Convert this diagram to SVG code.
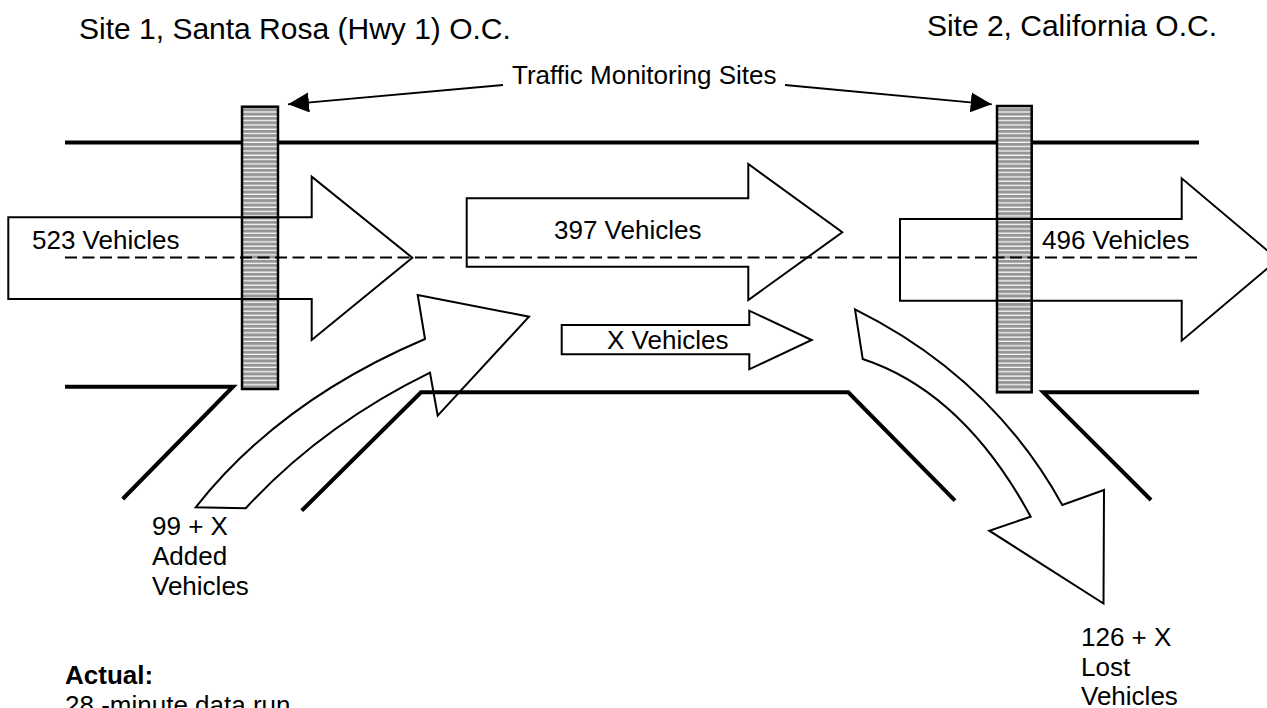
<svg xmlns="http://www.w3.org/2000/svg" width="1267" height="708" viewBox="0 0 1267 708">
<defs>
<pattern id="stripes" patternUnits="userSpaceOnUse" x="0" y="0" width="10" height="4.33">
<rect width="10" height="4.33" fill="#959595"/>
<rect y="3.1" width="10" height="1.2" fill="#ffffff"/>
</pattern>
<marker id="ah" markerUnits="userSpaceOnUse" markerWidth="22" markerHeight="20" refX="21" refY="10" orient="auto">
<path d="M0,0 L21,10 L0,20 Z" fill="#000"/>
</marker>
<style>
.road{fill:none;stroke:#000;stroke-width:4;stroke-linecap:butt;stroke-linejoin:miter}
.post{fill:url(#stripes);stroke:#000;stroke-width:2.5}
.arr{fill:none;stroke:#000;stroke-width:2;stroke-linejoin:miter}
.dash{fill:none;stroke:#000;stroke-width:2;stroke-dasharray:12 5.5}
.lead{fill:none;stroke:#000;stroke-width:1.8}
text{font-family:"Liberation Sans",Arial,sans-serif;font-size:26px;fill:#000}
.site{font-size:30px}
.b{font-weight:bold}
</style>
</defs>
<rect width="1267" height="708" fill="#fff"/>
<g id="roads">
<line class="road" x1="65" y1="142.5" x2="1199" y2="142.5"/>
<polyline class="road" points="65,386.7 233,386.7 122.7,499"/>
<polyline class="road" points="301.7,510.7 421,392.3 848.3,392.3 955,500.7"/>
<polyline class="road" points="1199,392.3 1043.3,392.3 1151,500"/>
</g>
<g id="site1-post"><rect class="post" x="242" y="106.7" width="36" height="282.3"/></g>
<g id="site2-post"><rect class="post" x="997" y="106" width="34.7" height="286.3"/></g>
<g id="centerline"><line class="dash" x1="65" y1="257.5" x2="1201" y2="257.5"/></g>
<g id="arrow-523">
<path class="arr" d="M8.3,217.3 H311.7 V176.7 L412.3,257.7 L311.7,340 V299 H8.3 Z"/>
<text x="32" y="249">523 Vehicles</text>
</g>
<g id="arrow-397">
<path class="arr" d="M466.7,198.3 H748.3 V164 L842.3,232.3 L748.3,300 V266.7 H466.7 Z"/>
<text x="554" y="239">397 Vehicles</text>
</g>
<g id="arrow-496">
<path class="arr" d="M900,219 H1181.7 V178.3 L1278,259.5 L1181.7,340.7 V300.7 H900 Z"/>
<text x="1042" y="249">496 Vehicles</text>
</g>
<g id="arrow-x">
<path class="arr" d="M561.7,325 H749.3 V310.7 L811.7,340 L749.3,369.3 V354.3 H561.7 Z"/>
<text x="607" y="349">X Vehicles</text>
</g>
<g id="arrow-added">
<path class="arr" d="M195.7,507.3 Q279.6,400.8 425,339 L417.7,295 L529,316.7 L437.7,415.7 L430,372.7 Q322,425.5 245.7,508.3 Z"/>
<text x="152" y="535">99 + X</text>
<text x="152" y="565">Added</text>
<text x="152" y="595">Vehicles</text>
</g>
<g id="arrow-lost">
<path class="arr" d="M855,309.3 Q991.4,376.9 1062.3,505 L1104,490 L1103.5,603.5 L989.3,530.7 L1030.7,516.7 Q963.3,392.2 862.7,359 Z"/>
<text x="1081" y="646">126 + X</text>
<text x="1081" y="676">Lost</text>
<text x="1081" y="705">Vehicles</text>
</g>
<g id="labels">
<text class="site" x="79" y="39">Site 1, Santa Rosa (Hwy 1) O.C.</text>
<text class="site" x="1217" y="36" text-anchor="end">Site 2, California O.C.</text>
<text x="512" y="84">Traffic Monitoring Sites</text>
<text class="b" x="65" y="684">Actual:</text>
<text x="65" y="714">28 -minute data run</text>
</g>
<g id="connectors">
<line class="lead" x1="503" y1="85" x2="288" y2="104.3" marker-end="url(#ah)"/>
<line class="lead" x1="785" y1="85" x2="991.7" y2="104.3" marker-end="url(#ah)"/>
</g>
</svg>
